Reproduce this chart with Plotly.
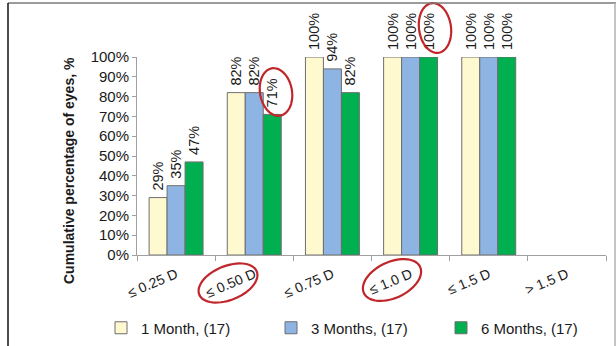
import numpy as np
import plotly.graph_objects as go

categories = ["≤ 0.25 D", "≤ 0.50 D", "≤ 0.75 D", "≤ 1.0 D", "≤ 1.5 D", "> 1.5 D"]
series_names = ["1 Month, (17)", "3 Months, (17)", "6 Months, (17)"]
month1 = [0.29, 0.82, 1.00, 1.00, 1.00, None]
month3 = [0.35, 0.82, 0.94, 1.00, 1.00, None]
month6 = [0.47, 0.71, 0.82, 1.00, 1.00, None]
y_ticks = [0, 0.1, 0.2, 0.3, 0.4, 0.5, 0.6, 0.7, 0.8, 0.9, 1.0]

colors = ["#FFF9D0", "#8EB4E3", "#00B050"]
W, H = 616, 346
L, R, T, B = 137, 10, 57, 91
FONT = "Arial, Liberation Sans, sans-serif"

fig = go.Figure()
for name, vals, col in zip(series_names, [month1, month3, month6], colors):
    fig.add_trace(go.Bar(
        x=categories, y=vals, name=name,
        marker=dict(color=col, line=dict(color="#6E6E6E", width=1)),
        texttemplate="\u00a0%{y:.0%}", textposition="outside", textangle=-90,
        textfont=dict(size=14.5, color="#1a1a1a", family=FONT),
        constraintext="none", cliponaxis=False,
    ))

pw, ph = W - L - R, H - T - B
def px2paper(x, y):
    return (x - L) / pw, (H - B - y) / ph

def ellipse_path(cx, cy, a, b, ang_deg, n=60):
    t = np.linspace(0, 2 * np.pi, n)
    ang = np.radians(ang_deg)
    xs = cx + a * np.cos(t) * np.cos(ang) - b * np.sin(t) * np.sin(ang)
    ys = cy + a * np.cos(t) * np.sin(ang) + b * np.sin(t) * np.cos(ang)
    pts = [px2paper(x, y) for x, y in zip(xs, ys)]
    return "M " + " L ".join(f"{x:.4f},{y:.4f}" for x, y in pts) + " Z"

shapes = []
for cx, cy, a, b, ang in [(228, 283, 31, 17, -22), (392, 280, 31, 18, -25),
                          (276, 92, 16, 24, -10), (435, 28, 16, 25, -8)]:
    shapes.append(dict(type="path", xref="paper", yref="paper",
                       path=ellipse_path(cx, cy, a, b, ang),
                       line=dict(color="#C0262A", width=2.2)))
# frame lines
for (x0, y0, x1, y1, c) in [(8, 3, 616, 3, "#7a7a7a"), (8, 3, 8, 346, "#111111"),
                            (615, 3, 615, 346, "#b0b0b0")]:
    a0 = px2paper(x0, y0); a1 = px2paper(x1, y1)
    shapes.append(dict(type="line", xref="paper", yref="paper",
                       x0=a0[0], y0=a0[1], x1=a1[0], y1=a1[1],
                       line=dict(color=c, width=1.5)))

tx, ty = px2paper(59, 171)
fig.update_layout(
    width=W, height=H, margin=dict(l=L, r=R, t=T, b=B, autoexpand=False),
    paper_bgcolor="white", plot_bgcolor="white",
    barmode="group", bargap=0.31, bargroupgap=0,
    font=dict(family=FONT, color="#1a1a1a"),
    xaxis=dict(type="category", categoryorder="array", categoryarray=categories,
               range=[-0.5, 5.5], showline=True, linecolor="#A0A0A0", linewidth=1,
               ticks="outside", tickson="boundaries", ticklen=5, tickcolor="#A0A0A0",
               tickangle=-23, tickfont=dict(size=14, color="#1a1a1a"), showgrid=False,
               ticklabelstandoff=5, automargin=False),
    yaxis=dict(range=[0, 1], tickvals=y_ticks, tickformat=".0%", showline=True,
               linecolor="#A0A0A0", linewidth=1, ticks="outside", ticklen=4,
               tickcolor="#A0A0A0", showgrid=False, zeroline=False, automargin=False,
               tickfont=dict(size=15, color="#1a1a1a")),
    legend=dict(orientation="h", x=px2paper(101, 0)[0], xanchor="left",
                y=px2paper(0, 328)[1], yanchor="middle",
                font=dict(size=15, color="#1a1a1a"), entrywidth=125,
                itemwidth=30, bgcolor="rgba(0,0,0,0)"),
    annotations=[dict(text="<b>Cumulative percentage of eyes, %</b>", x=tx, y=ty,
                      xref="paper", yref="paper", textangle=-90, showarrow=False,
                      font=dict(size=14, color="#1a1a1a"))],
    shapes=shapes,
)
fig.write_html("out.html")
